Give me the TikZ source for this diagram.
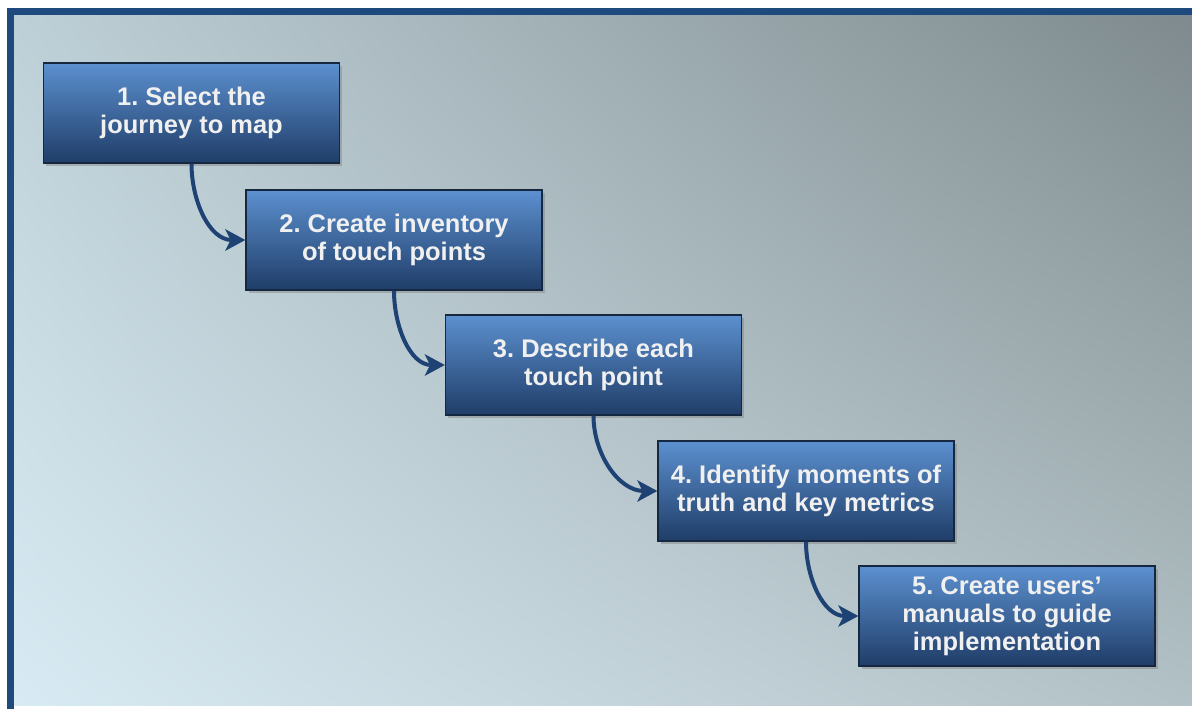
\documentclass[tikz,border=0pt]{standalone}
\usepackage{fontspec}
\setmainfont{Liberation Sans}
\usetikzlibrary{arrows.meta,shadows,shadings,calc}
\frenchspacing

\definecolor{framecol}{HTML}{1F4A7E}
\definecolor{boxtop}{HTML}{5C90CF}
\definecolor{boxbot}{HTML}{1F3D68}
\definecolor{boxline}{HTML}{16283F}
\definecolor{arrowcol}{HTML}{1F4274}
\definecolor{bgul}{HTML}{BED0D7}
\definecolor{bgur}{HTML}{7E8A8D}
\definecolor{bgll}{HTML}{D8EAF3}
\definecolor{bglr}{HTML}{B2C1C5}

\tikzset{
  stepbox/.style={rectangle, draw=boxline, line width=1pt,
    top color=boxtop, bottom color=boxbot, middle color=boxtop!50!boxbot,
    minimum width=222pt, minimum height=75pt, align=center,
    text=white!94!black, font=\bfseries\fontsize{19.1}{21}\selectfont,
    drop shadow={shadow xshift=2pt, shadow yshift=-2pt, opacity=.45}},
  steparrow/.style={draw=arrowcol, line width=3pt,
    -{Stealth[length=15pt,width=16pt,inset=4pt]}}
}

\begin{document}
\begin{tikzpicture}[x=0.75pt, y=-0.75pt]
		\useasboundingbox (0,0) rectangle (1192,708);
		\begin{scope}
		\clip (0,0) rectangle (1192,708);
		% background and frame
		\shade[upper left=bgul, upper right=bgur,
		  lower left=bgll, lower right=bglr]
		  (14,15) rectangle (1192,705);
		\draw[framecol, line width=5.25pt] (10.5,11.5) rectangle (1210,712);
		\end{scope}

		\path (191.5, 113) node[stepbox] (s1) {1. Select the\\journey to map}
  		(394, 240) node[stepbox] (s2) {2. Create inventory\\of touch points}
  		(593.5, 365) node[stepbox] (s3) {3. Describe each\\touch point}
  		(806, 491) node[stepbox] (s4) {4. Identify moments of\\truth and key metrics}
  		(1007, 616) node[stepbox] (s5) {5. Create users'\\manuals to guide\\implementation};

		\draw[steparrow] (s1.south) to[out=-90, in=180] (s2.west);
		\draw[steparrow] (s2.south) to[out=-90, in=180] (s3.west);
		\draw[steparrow] (s3.south) to[out=-90, in=180] (s4.west);
		\draw[steparrow] (s4.south) to[out=-90, in=180] (s5.west);
	\end{tikzpicture}
\end{document}
